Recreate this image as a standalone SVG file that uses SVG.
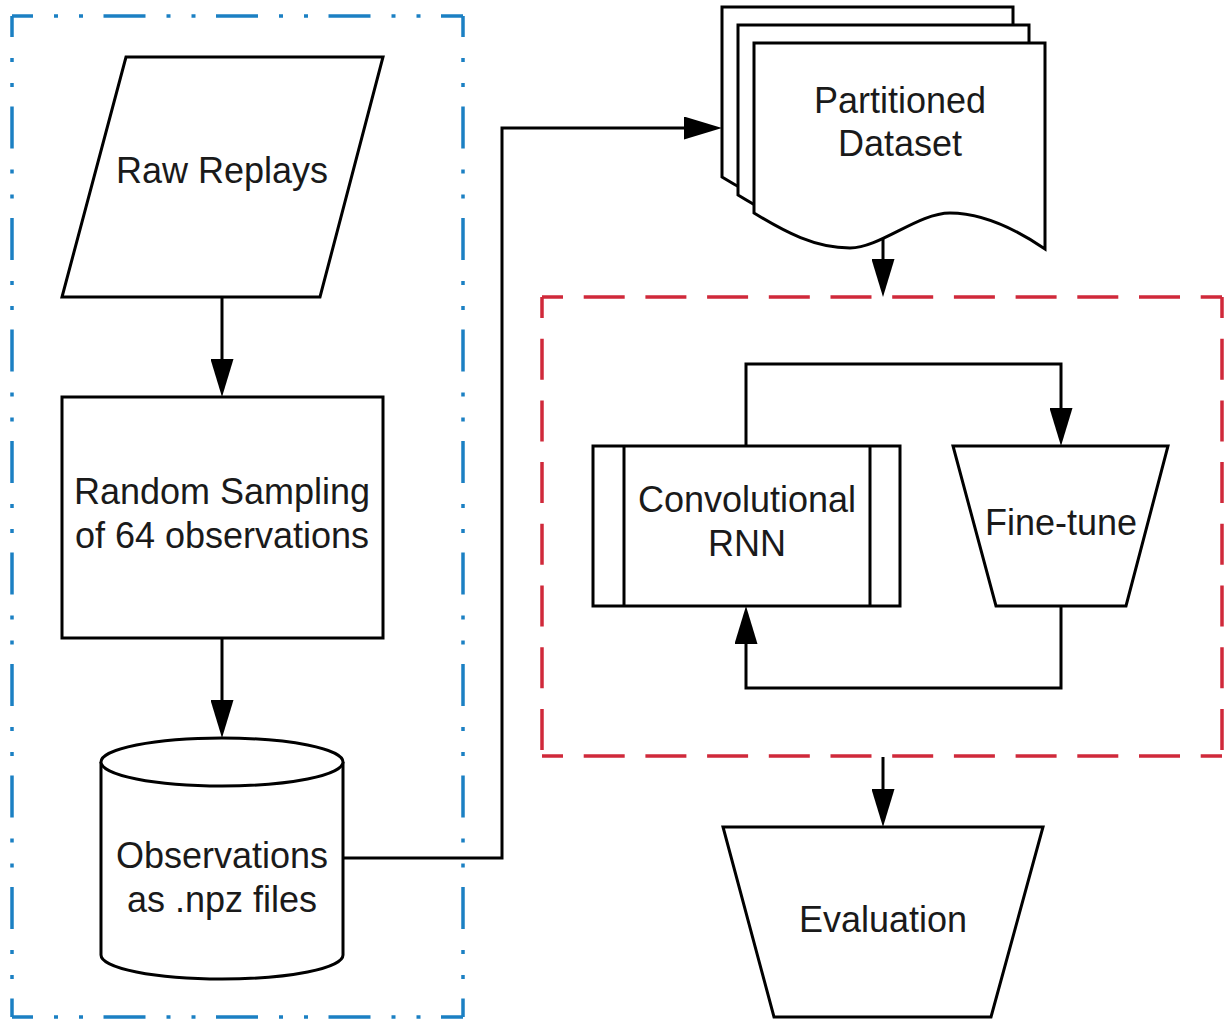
<svg xmlns="http://www.w3.org/2000/svg" width="1225" height="1020" viewBox="0 0 1225 1020">
  <style>
    .shape { fill: #ffffff; stroke: #000000; stroke-width: 3; stroke-linejoin: miter; }
    .edge { fill: none; stroke: #000000; stroke-width: 3; marker-end: url(#head); }
    .label { font-family: "Liberation Sans", Arial, Helvetica, sans-serif; font-size: 36px; fill: #1a1a1a; text-anchor: middle; }
    .blue { fill: none; stroke: #1b80c3; stroke-width: 3.5; stroke-dashoffset: 21; }
    .blue-h { stroke-dasharray: 42 21 4 21 4 20.5; }
    .blue-v { stroke-dasharray: 42 21 4 21 4 19.5; }
    .red { fill: none; stroke: #d0293a; stroke-width: 3.5; stroke-dasharray: 41 20.7; stroke-dashoffset: 20; }
  </style>
  <defs>
    <!-- filled block arrowhead; the line stops 22px short of the tip -->
    <marker id="head" markerUnits="userSpaceOnUse" viewBox="0 0 38 23" markerWidth="38" markerHeight="23" refX="16" refY="11.5" orient="auto">
      <path d="M0,0 L38,11.5 L0,23 Z" fill="#000000"/>
    </marker>
    <!-- single page with a wavy lower edge -->
    <path id="doc" d="M754,43 H1045 V249 C1020,232 985,213 950,213 C918,213 880,248 850,248 C815,248 785,232 754,213 Z"/>
  </defs>

  <rect width="1225" height="1020" fill="#ffffff"/>

  <!-- preprocessing group (blue dash-dot frame) -->
  <g id="preprocessing-frame">
    <path class="blue blue-h" d="M12,16 H463"/>
    <path class="blue blue-h" d="M12,1017 H463"/>
    <path class="blue blue-v" d="M12,16 V1017"/>
    <path class="blue blue-v" d="M463,16 V1017"/>
  </g>

  <!-- training group (red dashed frame) -->
  <g id="training-frame">
    <path class="red" d="M542,297 H1222"/>
    <path class="red" d="M542,756 H1222"/>
    <path class="red" d="M542,297 V756"/>
    <path class="red" d="M1222,297 V756"/>
  </g>

  <g id="raw-replays">
    <path class="shape" d="M126,57 H383 L320,297 H62 Z"/>
    <text class="label" x="222" y="183">Raw Replays</text>
  </g>

  <g id="random-sampling">
    <rect class="shape" x="62" y="397" width="321" height="241"/>
    <text class="label" x="222" y="504">Random Sampling</text>
    <text class="label" x="222" y="548">of 64 observations</text>
  </g>

  <g id="observations">
    <path class="shape" d="M101,762 A121,24 0 0 1 343,762 V955 A121,24 0 0 1 101,955 Z"/>
    <path class="shape" fill="none" d="M101,762 A121,24 0 0 0 343,762"/>
    <text class="label" x="222" y="868">Observations</text>
    <text class="label" x="222" y="912">as .npz files</text>
  </g>

  <g id="partitioned-dataset">
    <use href="#doc" class="shape" transform="translate(-32,-36)"/>
    <use href="#doc" class="shape" transform="translate(-16,-18)"/>
    <use href="#doc" class="shape"/>
    <text class="label" x="900" y="113">Partitioned</text>
    <text class="label" x="900" y="156">Dataset</text>
  </g>

  <g id="convolutional-rnn">
    <rect class="shape" x="593" y="446" width="307" height="160"/>
    <path class="shape" d="M624,446 V606 M870,446 V606"/>
    <text class="label" x="747" y="512">Convolutional</text>
    <text class="label" x="747" y="556">RNN</text>
  </g>

  <g id="fine-tune">
    <path class="shape" d="M953,446 H1168 L1126,606 H996 Z"/>
    <text class="label" x="1061" y="535">Fine-tune</text>
  </g>

  <g id="evaluation">
    <path class="shape" d="M723,827 H1043 L991,1017 H774 Z"/>
    <text class="label" x="883" y="932">Evaluation</text>
  </g>

  <g id="connectors">
    <path class="edge" d="M222,297 V375"/>
    <path class="edge" d="M222,638 V716"/>
    <path class="edge" d="M343,858 H502 V128 H700"/>
    <path class="edge" d="M883,238 V275"/>
    <path class="edge" d="M746,446 V364 H1061 V424"/>
    <path class="edge" d="M1061,606 V688 H746 V628"/>
    <path class="edge" d="M883,757 V805"/>
  </g>
</svg>
